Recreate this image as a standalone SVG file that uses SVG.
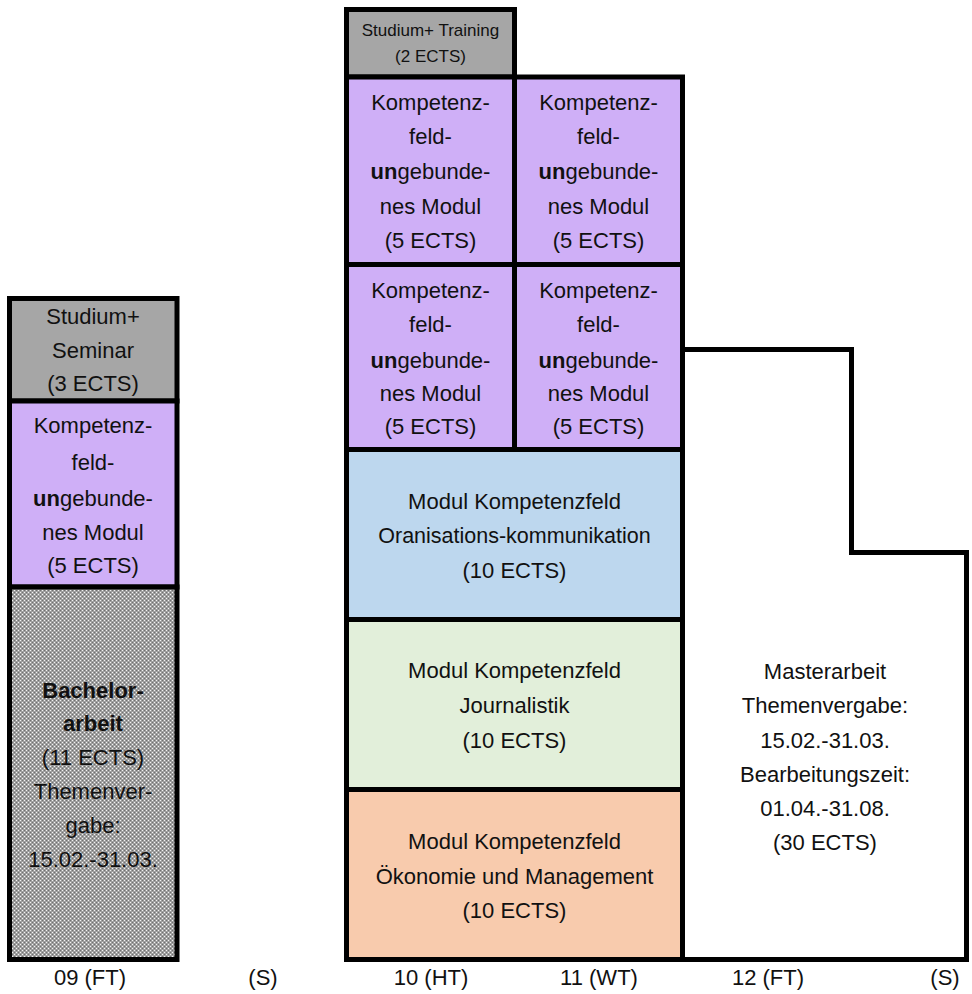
<svg xmlns="http://www.w3.org/2000/svg" width="972" height="994" viewBox="0 0 972 994">
<style>
text{font-family:"Liberation Sans",Arial,sans-serif;font-size:22px;fill:#111;text-anchor:middle}
.sm{font-size:17px}
.ax{font-size:22px}
.b{font-weight:bold}
.box{stroke:#000;stroke-width:5}
.gray{fill:#a6a6a6}
.purple{fill:#cfaff7}
.blue{fill:#bdd7ee}
.green{fill:#e2efda}
.orange{fill:#f8cbad}
</style>
<defs>
<pattern id="dots" width="4" height="4" patternUnits="userSpaceOnUse">
<rect width="4" height="4" fill="#a0a0a0"/>
<rect x="0" y="0" width="1" height="1" fill="#f4f4f4"/>
<rect x="2" y="2" width="1" height="1" fill="#f4f4f4"/>
<rect x="2" y="0" width="1" height="1" fill="#707070"/>
<rect x="0" y="2" width="1" height="1" fill="#707070"/>
</pattern>
</defs>
<rect width="972" height="994" fill="#fff"/>

<g id="seminar">
<rect class="box gray" x="9.5" y="298.5" width="167.5" height="102.5"/>
<text x="93" y="324">Studium+</text>
<text x="93" y="358">Seminar</text>
<text x="93" y="391">(3 ECTS)</text>
</g>
<g id="modul-09">
<rect class="box purple" x="9.5" y="401" width="167.5" height="186"/>
<text x="93" y="433">Kompetenz-</text>
<text x="93" y="470">feld-</text>
<text x="93" y="506"><tspan class="b">un</tspan>gebunde-</text>
<text x="93" y="540">nes Modul</text>
<text x="93" y="573">(5 ECTS)</text>
</g>
<g id="bachelorarbeit">
<rect class="box" fill="url(#dots)" x="9.5" y="587" width="167.5" height="372.5"/>
<text x="93" y="698" class="b">Bachelor-</text>
<text x="93" y="731" class="b">arbeit</text>
<text x="93" y="765">(11 ECTS)</text>
<text x="93" y="799">Themenver-</text>
<text x="93" y="833">gabe:</text>
<text x="93" y="867">15.02.-31.03.</text>
</g>

<g id="training">
<rect class="box gray" x="346.5" y="9.5" width="168" height="67.5"/>
<text x="430.5" y="36" class="sm">Studium+ Training</text>
<text x="430.5" y="62" class="sm">(2 ECTS)</text>
</g>
<g id="modul-10a">
<rect class="box purple" x="346.5" y="77" width="168" height="187.5"/>
<text x="430.5" y="110">Kompetenz-</text>
<text x="430.5" y="144">feld-</text>
<text x="430.5" y="179"><tspan class="b">un</tspan>gebunde-</text>
<text x="430.5" y="214">nes Modul</text>
<text x="430.5" y="248">(5 ECTS)</text>
</g>
<g id="modul-11a">
<rect class="box purple" x="514.5" y="77" width="168" height="187.5"/>
<text x="598.5" y="110">Kompetenz-</text>
<text x="598.5" y="144">feld-</text>
<text x="598.5" y="179"><tspan class="b">un</tspan>gebunde-</text>
<text x="598.5" y="214">nes Modul</text>
<text x="598.5" y="248">(5 ECTS)</text>
</g>
<g id="modul-10b">
<rect class="box purple" x="346.5" y="264.5" width="168" height="185"/>
<text x="430.5" y="298">Kompetenz-</text>
<text x="430.5" y="332">feld-</text>
<text x="430.5" y="368"><tspan class="b">un</tspan>gebunde-</text>
<text x="430.5" y="401">nes Modul</text>
<text x="430.5" y="434">(5 ECTS)</text>
</g>
<g id="modul-11b">
<rect class="box purple" x="514.5" y="264.5" width="168" height="185"/>
<text x="598.5" y="298">Kompetenz-</text>
<text x="598.5" y="332">feld-</text>
<text x="598.5" y="368"><tspan class="b">un</tspan>gebunde-</text>
<text x="598.5" y="401">nes Modul</text>
<text x="598.5" y="434">(5 ECTS)</text>
</g>
<g id="orga">
<rect class="box blue" x="346.5" y="449.5" width="336" height="170"/>
<text x="514.5" y="509">Modul Kompetenzfeld</text>
<text x="514.5" y="543" style="font-size:21.5px">Oranisations-kommunikation</text>
<text x="514.5" y="578">(10 ECTS)</text>
</g>
<g id="journalistik">
<rect class="box green" x="346.5" y="619.5" width="336" height="170"/>
<text x="514.5" y="678">Modul Kompetenzfeld</text>
<text x="514.5" y="713">Journalistik</text>
<text x="514.5" y="748">(10 ECTS)</text>
</g>
<g id="oekonomie">
<rect class="box orange" x="346.5" y="789.5" width="336" height="170"/>
<text x="514.5" y="849">Modul Kompetenzfeld</text>
<text x="514.5" y="884">Ökonomie und Management</text>
<text x="514.5" y="918">(10 ECTS)</text>
</g>
<g id="masterarbeit">
<path class="box" fill="#fff" d="M682.5 349.5 H851.5 V552.5 H966.5 V959.5 H682.5 Z"/>
<text x="825" y="679">Masterarbeit</text>
<text x="825" y="713">Themenvergabe:</text>
<text x="825" y="748">15.02.-31.03.</text>
<text x="825" y="782">Bearbeitungszeit:</text>
<text x="825" y="816">01.04.-31.08.</text>
<text x="825" y="850">(30 ECTS)</text>
</g>
<g id="connectors"></g>
<g id="axis">
<text x="90" y="985" class="ax">09 (FT)</text>
<text x="263" y="985" class="ax">(S)</text>
<text x="431" y="985" class="ax">10 (HT)</text>
<text x="599" y="985" class="ax">11 (WT)</text>
<text x="768" y="985" class="ax">12 (FT)</text>
<text x="945" y="985" class="ax">(S)</text>
</g>
</svg>
